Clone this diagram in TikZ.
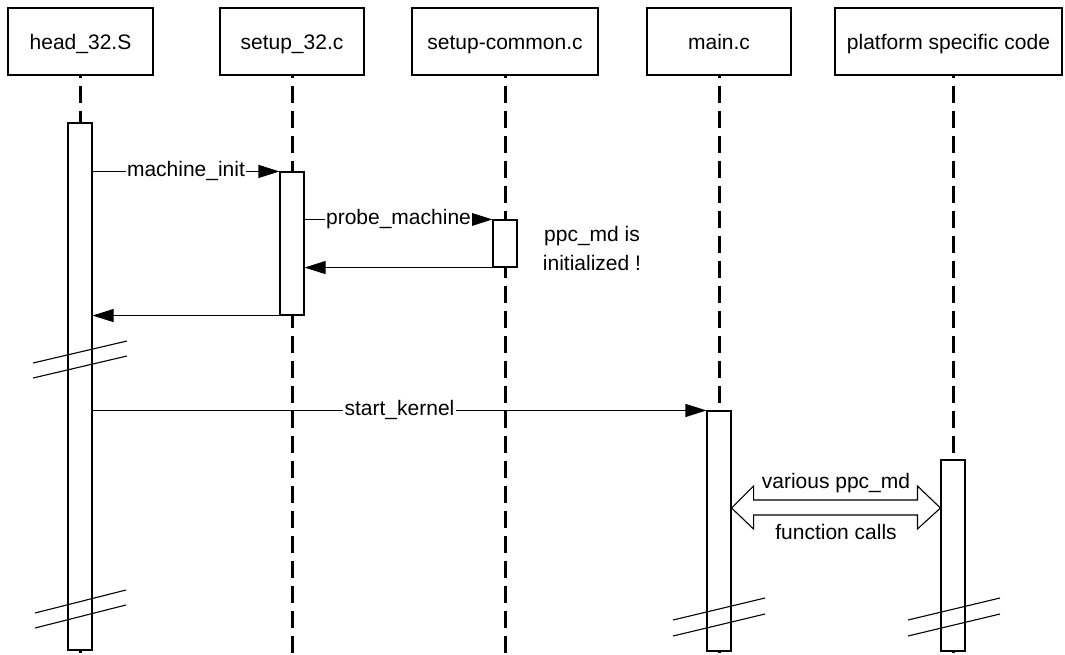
\documentclass[tikz,border=0pt]{standalone}
\usepackage{fontspec}
\setmainfont{Liberation Sans}
\usetikzlibrary{arrows.meta,calc}
\begin{document}
\begin{tikzpicture}[x=1pt,y=-1pt,
  lbl/.style={font=\fontsize{21}{26}\selectfont},
  obj/.style={draw,line width=1.1pt,minimum height=67pt,inner sep=0pt,text height=15pt,text depth=0pt,lbl},
  life/.style={line width=3pt,dash pattern=on 17pt off 8pt,dash phase=15pt},
  act/.style={draw,fill=white,line width=1.1pt,minimum width=24pt,inner sep=0pt},
  msg/.style={line width=1.1pt,-{Triangle[length=21pt,width=13pt]}},
  mlbl/.style={fill=white,inner xsep=1.5pt,inner ysep=3pt,text height=11pt,text depth=0pt,lbl},
  brk/.style={line width=1.1pt}]
\useasboundingbox (0,0) rectangle (1065,654);
% objects
\node[obj,minimum width=145pt] (o1) at (80.5,41.5) {head\_32.S};
\node[obj,minimum width=144pt] (o2) at (292,41.5) {setup\_32.c};
\node[obj,minimum width=186pt] (o3) at (505,41.5) {setup-common.c};
\node[obj,minimum width=144pt] (o4) at (719,41.5) {main.c};
\node[obj,minimum width=227pt] (o5) at (948.5,41.5) {platform specific code};
% lifeline ends
\coordinate (e1) at (80,654);
\coordinate (e2) at (292,654);
\coordinate (e3) at (505,654);
\coordinate (e4) at (719,654);
\coordinate (e5) at (953,654);
\draw[life] (o1.south -| e1) -- (e1);
\draw[life] (o2.south) -- (e2);
\draw[life] (o3.south) -- (e3);
\draw[life] (o4.south) -- (e4);
\draw[life] (o5.south -| e5) -- (e5);
% activations
\node[act,minimum height=527pt] (a1) at (80,386.5) {};
\node[act,minimum height=143pt] (a2) at (292,243.5) {};
\node[act,minimum height=47pt] (a3) at (505,243.5) {};
\node[act,minimum height=240pt] (a4) at (719,531) {};
\node[act,minimum height=191pt] (a5) at (953,555.5) {};
% messages
\draw[msg] (a1.east |- a2.north) -- node[mlbl]{machine\_init} (a2.north west);
\draw[msg] (a2.east |- a3.north) -- node[mlbl]{probe\_machine} (a3.north west);
\draw[msg] (a3.south west) -- (a2.east |- a3.south);
\draw[msg] (a2.south west) -- (a1.east |- a2.south);
\draw[msg] (a1.east |- a4.north) -- node[mlbl]{start\_kernel} (a4.north west);
% note
\node[font=\fontsize{21}{29}\selectfont,align=center,inner sep=0pt] (note) at (592,248) {ppc\_md is\\initialized !};
% double block arrow
\coordinate (dl) at (a4.east |- 0,508);
\coordinate (dr) at (a5.west |- 0,508);
\draw[line width=1.1pt,fill=white] (dl) -- ($(dl)+(22,-22)$) -- ($(dl)+(22,-8)$)
  -- ($(dr)+(-23,-8)$) -- ($(dr)+(-23,-22)$) -- (dr) -- ($(dr)+(-23,21)$)
  -- ($(dr)+(-23,7)$) -- ($(dl)+(22,7)$) -- ($(dl)+(22,21)$) -- cycle;
\node[lbl] (v1) at (836,483) {various ppc\_md};
\node[lbl] (v2) at (836,531.5) {function calls};
% break marks
\draw[brk] (33,363) -- (127,341);
\draw[brk] (33,378) -- (127,356);
\draw[brk] (35,613) -- (126,590);
\draw[brk] (35,628) -- (126,605);
\draw[brk] (673,620) -- (765,598);
\draw[brk] (673,636) -- (765,614);
\draw[brk] (908,620) -- (1000,598);
\draw[brk] (908,636) -- (1000,614);
\end{tikzpicture}
\end{document}
